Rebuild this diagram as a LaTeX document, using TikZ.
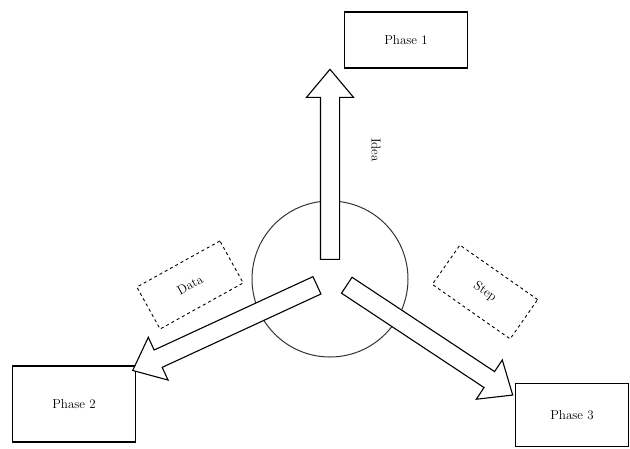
\documentclass[tikz,border=0pt]{standalone}
\usetikzlibrary{shapes.arrows,calc}
\begin{document}
\begin{tikzpicture}[x=1pt,y=-1pt,
  txt/.style={font=\fontsize{13}{15}\selectfont},
  phasebox/.style={draw=black,line width=1.6pt,fill=white,txt},
  bigarrow/.style={single arrow,draw=black,line width=1.1pt,fill=white,
    inner sep=9pt,minimum width=0pt,single arrow head extend=14pt,
    single arrow tip angle=80},
  labelbox/.style={draw=black,dashed,line width=0.9pt,minimum width=95pt,
    minimum height=48pt,txt}]
\useasboundingbox (0,0) rectangle (630,448);
% circle
\node[circle,draw=black!80,line width=1pt,minimum size=156pt] (hub) at (330,279) {};
% phase boxes
\node[phasebox,minimum width=123pt,minimum height=56pt] (p1) at (406,40) {Phase 1};
\node[phasebox,minimum width=123pt,minimum height=76pt] (p2) at (74,404) {Phase 2};
\node[phasebox,minimum width=113pt,minimum height=63pt] (p3) at (572,415) {Phase 3};
% arrows
\coordinate (t1) at (330,265); \coordinate (h1) at (330,75);
\coordinate (t2) at (322,283); \coordinate (h2) at (138,368);
\coordinate (t3) at (342,282); \coordinate (h3) at (508,392);
\node[bigarrow,minimum height=190pt,rotate=90] (a1) at ($(t1)!0.5!(h1)$) {};
\node[bigarrow,minimum height=203pt,rotate=204.8] (a2) at ($(t2)!0.5!(h2)$) {};
\node[bigarrow,minimum height=199pt,rotate=-33.5] (a3) at ($(t3)!0.5!(h3)$) {};
% labels
\node[txt,rotate=-90] (l1) at (376,150) {Idea};
\node[labelbox,rotate=29] (l2) at (190,285) {Data};
\node[labelbox,rotate=-35] (l3) at (485,292) {Step};
\end{tikzpicture}
\end{document}
